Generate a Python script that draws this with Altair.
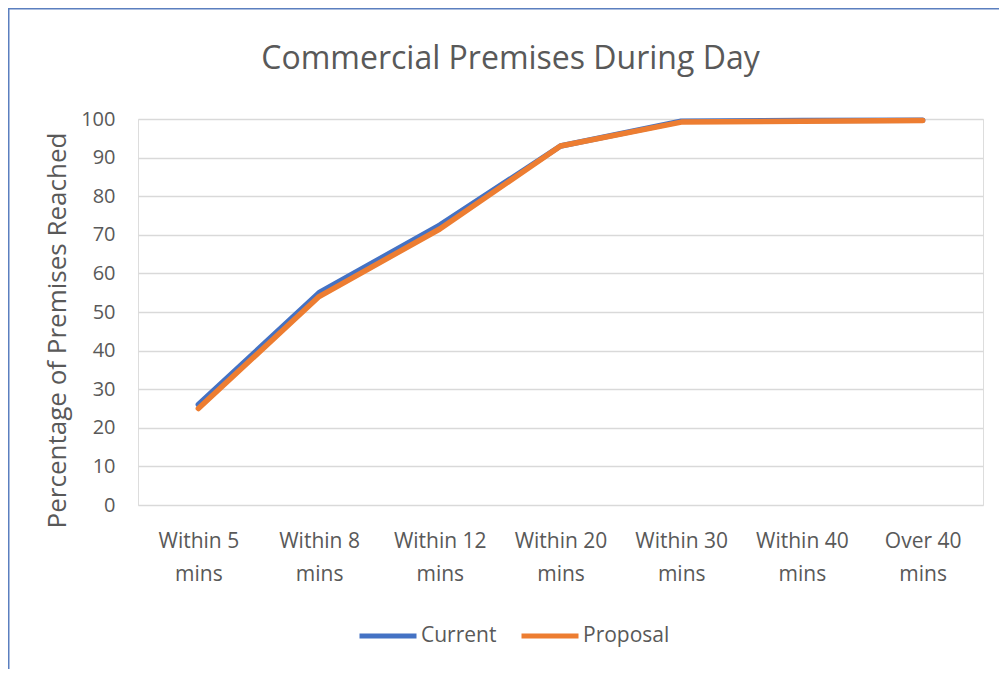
import altair as alt
import pandas as pd

categories = ["Within 5 mins", "Within 8 mins", "Within 12 mins", "Within 20 mins",
              "Within 30 mins", "Within 40 mins", "Over 40 mins"]
current = [26, 55, 72.5, 93, 99.4, 99.6, 99.7]
proposal = [25, 54, 71.5, 93, 99.2, 99.4, 99.6]
series_names = ["Current", "Proposal"]
series_colors = ["#4472C4", "#ED7D31"]
y_ticks = [0, 10, 20, 30, 40, 50, 60, 70, 80, 90, 100]

rows = []
for i, c in enumerate(categories):
    rows.append({"cat": c, "series": "Current", "value": current[i], "order": 0})
    rows.append({"cat": c, "series": "Proposal", "value": proposal[i], "order": 1})
df = pd.DataFrame(rows)

FONT = "Open Sans"
GREY = "#595959"

W, H = 845, 386

lines = alt.Chart(df).mark_line(strokeWidth=5.5, strokeJoin="round", strokeCap="round").encode(
    x=alt.X("cat:N", sort=categories,
            scale=alt.Scale(type="point", padding=0.5),
            axis=alt.Axis(title=None, domain=False, ticks=False, grid=False,
                          labelAngle=0, labelFontSize=21, labelColor=GREY, labelFont=FONT,
                          labelPadding=25, labelLineHeight=33,
                          labelExpr="[substring(datum.label, 0, lastindexof(datum.label, ' ')), substring(datum.label, lastindexof(datum.label, ' ') + 1)]")),
    y=alt.Y("value:Q", scale=alt.Scale(domain=[0, 100], nice=False),
            axis=alt.Axis(title="Percentage of Premises Reached", values=y_ticks,
                          domain=False, ticks=False, grid=True, gridColor="#d9d9d9", gridWidth=1.5,
                          labelFontSize=20, labelColor=GREY, labelFont=FONT, labelPadding=23,
                          titleFontSize=26, titleColor=GREY, titleFont=FONT, titleFontWeight="normal",
                          titlePadding=10, titleY=211)),
    color=alt.Color("series:N", sort=series_names,
                    scale=alt.Scale(domain=series_names, range=series_colors),
                    legend=alt.Legend(title=None, orient="none", direction="horizontal",
                                      legendX=219, legendY=486,
                                      symbolType="stroke", symbolSize=3249, symbolStrokeWidth=5,
                                      labelFontSize=21, labelColor=GREY, labelFont=FONT,
                                      labelOffset=2, columnPadding=14)),
    order=alt.Order("order:Q"),
)

border = alt.Chart(pd.DataFrame({"a": [0]})).mark_rect(
    fill=None, stroke="#5b7fbf", strokeWidth=1.5
).encode(
    x=alt.value(-129.25), x2=alt.value(W + 40),
    y=alt.value(-110.25), y2=alt.value(H + 200),
)

chart = alt.layer(border, lines).properties(
    width=W, height=H,
    padding={"left": 130, "top": 111, "right": 16, "bottom": 164},
    autosize=alt.AutoSizeParams(type="none"),
    title=alt.TitleParams("Commercial Premises During Day", fontSize=32, color=GREY,
                          font=FONT, fontWeight="normal", anchor="middle", dx=-50, offset=-68),
).configure_view(stroke=None).configure(background="white")

chart.save("out.html", embed_options={"renderer": "svg", "actions": False})
